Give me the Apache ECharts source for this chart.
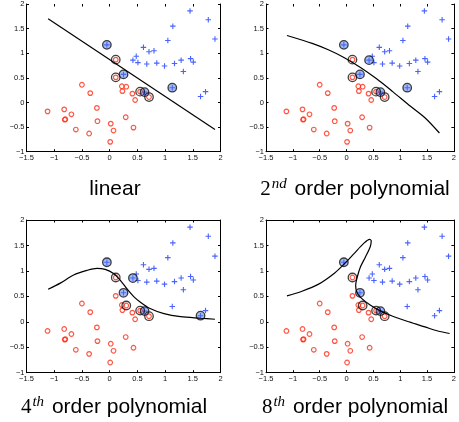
<!DOCTYPE html>
<html><head><meta charset="utf-8">
<script src="https://cdn.jsdelivr.net/npm/echarts@6/dist/echarts.min.js"></script>
<style>html,body{margin:0;padding:0;background:#fff}#c{width:459px;height:422px}</style>
</head><body><div id="c"></div>
<script>
// class 0 (red circles)
const redX = [-1.12,-0.82,-0.81,-0.80,-0.69,-0.61,-0.50,-0.35,-0.37,-0.23,-0.22,0.02,0.07,0.01,0.11,0.11,0.22,0.30,0.23,0.29,0.41,0.46,0.43,0.55,0.71];
const redY = [-0.18,-0.14,-0.35,-0.34,-0.24,-0.55,0.36,0.19,-0.63,-0.11,-0.38,-0.43,-0.57,-0.80,0.51,0.87,0.33,0.32,0.23,-0.30,0.18,0.05,-0.51,0.22,0.11];
// class 1 (blue plus)
const blueX = [-0.05,0.25,0.63,1.13,0.42,0.48,0.51,0.61,0.71,0.80,0.67,0.85,0.99,1.05,1.14,1.17,1.29,1.33,1.45,1.46,1.51,1.64,1.73,1.78,1.90];
const blueY = [1.17,0.57,0.21,0.30,0.86,0.94,0.81,1.12,1.03,1.05,0.78,0.80,0.74,1.26,1.55,0.79,0.86,0.63,1.86,0.89,0.82,0.12,0.22,1.68,1.29];
// support vectors (indices) per panel
const svRed = [[14,15,23,24],[14,15,23,24],[15,17,23,24],[15,17,23,24]];
const svBlue = [[0,1,2,3],[0,1,2,3,4],[0,1,2,4,21],[0,1,2]];
// decision boundaries
const b1X = [-1.11,1.90];
const b1Y = [1.70,-0.55];
const b2X = [-1.11,-0.64,-0.34,-0.04,0.26,0.56,0.86,1.16,1.46,1.73];
const b2Y = [1.36,1.20,1.07,0.91,0.71,0.48,0.22,-0.05,-0.31,-0.62];
const b4X = [-1.11,-0.89,-0.65,-0.41,-0.23,-0.08,0.07,0.19,0.31,0.43,0.55,0.73,0.98,1.28,1.64,1.90];
const b4Y = [0.64,0.76,0.92,1.01,1.05,1.03,0.95,0.82,0.65,0.50,0.39,0.26,0.16,0.10,0.07,0.05];
const b8X = [-1.11,-0.83,-0.52,-0.22,-0.04,0.14,0.32,0.43,0.46,0.44,0.35,0.26,0.20,0.17,0.19,0.26,0.44,0.62,0.86,1.16,1.46,1.70,1.92];
const b8Y = [0.51,0.60,0.74,0.96,1.14,1.34,1.54,1.62,1.59,1.47,1.27,1.08,0.88,0.72,0.59,0.48,0.33,0.22,0.11,0.00,-0.10,-0.18,-0.23];
const xTicks = [-1.5,-1,-0.5,0,0.5,1,1.5,2];
const yTicks = [-1,-0.5,0,0.5,1,1.5,2];
const titleSup = ['', 'nd', 'th', 'th'];
const titleNum = ['', '2', '4', '8'];
const titleRest = ['linear', ' order polynomial', ' order polynomial', ' order polynomial'];

const bx = [b1X,b2X,b4X,b8X], by = [b1Y,b2Y,b4Y,b8Y];
const pts = (xs, ys) => xs.map((x, i) => [x, ys[i]]);
const redData = pts(redX, redY), blueData = pts(blueX, blueY);

const grids = [
  {left: 26.5, top: -0.4, width: 194, height: 152.1},
  {left: 266, top: -0.4, width: 194, height: 152.1},
  {left: 26.5, top: 220, width: 194, height: 152.7},
  {left: 266, top: 220, width: 194, height: 152.7}
];
const titlePos = [
  {x: 115, y: 177}, {x: 355, y: 177}, {x: 114, y: 395}, {x: 355, y: 395}
];
const lblFmt = v => String(v).replace('-', '\u2212');
const tickStyle = {show: true, inside: true, length: 2.5, lineStyle: {color: '#000', width: 1}};
const lineStyle = {show: true, onZero: false, lineStyle: {color: '#000', width: 1}};
const lblStyle = {fontSize: 7.5, color: '#111', fontFamily: 'Liberation Sans', formatter: lblFmt, showMinLabel: true, showMaxLabel: true};

const xAxis = [], yAxis = [], series = [], title = [];
const PLUS = 'path://M-0.2,-1 L0.2,-1 L0.2,-0.2 L1,-0.2 L1,0.2 L0.2,0.2 L0.2,1 L-0.2,1 L-0.2,0.2 L-1,0.2 L-1,-0.2 L-0.2,-0.2 Z';
grids.forEach((g, k) => {
  const base = {type: 'value', gridIndex: k, min: xTicks[0], max: xTicks[xTicks.length-1], interval: 0.5, splitLine: {show: false}, axisLine: lineStyle, axisTick: tickStyle};
  xAxis.push(Object.assign({}, base, {position: 'bottom', axisLabel: Object.assign({margin: 2.5}, lblStyle)}));
  xAxis.push(Object.assign({}, base, {position: 'top', axisLabel: {show: false},
    axisLine: k < 2 ? {show: false, onZero: false} : lineStyle}));
  const ybase = {type: 'value', gridIndex: k, min: yTicks[0], max: yTicks[yTicks.length-1], interval: 0.5, splitLine: {show: false}, axisLine: lineStyle, axisTick: tickStyle};
  yAxis.push(Object.assign({}, ybase, {position: 'left', axisLabel: Object.assign({margin: 2}, lblStyle)}));
  yAxis.push(Object.assign({}, ybase, {position: 'right', axisLabel: {show: false}}));
  const xi = 2*k, yi = 2*k;
  series.push({type: 'scatter', xAxisIndex: xi, yAxisIndex: yi, data: blueData, symbol: PLUS, symbolSize: 5.5,
    itemStyle: {color: '#1a3cff'}, silent: true, z: 3});
  series.push({type: 'scatter', xAxisIndex: xi, yAxisIndex: yi, data: svBlue[k].map(i => blueData[i]), symbol: 'circle', symbolSize: 8.5,
    itemStyle: {color: 'rgba(70,110,235,0.6)', borderColor: '#111', borderWidth: 1.3}, silent: true, z: 4});
  series.push({type: 'scatter', xAxisIndex: xi, yAxisIndex: yi, data: redData, symbol: 'circle', symbolSize: 4.6,
    itemStyle: {color: 'rgba(255,255,255,0)', borderColor: '#ff2a14', borderWidth: 1.2}, silent: true, z: 3});
  series.push({type: 'scatter', xAxisIndex: xi, yAxisIndex: yi, data: svRed[k].map(i => redData[i]), symbol: 'circle', symbolSize: 8.5,
    itemStyle: {color: 'rgba(255,255,255,0)', borderColor: '#111', borderWidth: 1.3}, silent: true, z: 4});
  series.push({type: 'line', xAxisIndex: xi, yAxisIndex: yi, data: pts(bx[k], by[k]), showSymbol: false, symbol: 'none',
    smooth: k === 0 ? false : 0.3, lineStyle: {color: '#000', width: 1.2}, silent: true, z: 5});
  const txt = titleNum[k] ? `{n|${titleNum[k]}}{s|${titleSup[k]}}{t|${titleRest[k]}}` : `{t|${titleRest[k]}}`;
  title.push({text: txt, left: titlePos[k].x, top: titlePos[k].y, textAlign: 'center', padding: 0,
    textStyle: {fontWeight: 'normal', rich: {
      n: {fontFamily: 'Liberation Serif', fontWeight: 'normal', fontSize: 21, lineHeight: 24, color: '#000'},
      s: {fontFamily: 'Liberation Serif', fontWeight: 'normal', fontStyle: 'italic', fontSize: 15, lineHeight: 10, verticalAlign: 'top', color: '#000', padding: [0, 2, 0, 1]},
      t: {fontFamily: 'Liberation Sans', fontWeight: 'normal', fontSize: 21, lineHeight: 24, color: '#000'}
    }}});
});

const chart = echarts.init(document.getElementById('c'), null, {renderer: 'canvas'});
chart.setOption({animation: false, backgroundColor: '#fff', title, grid: grids, xAxis, yAxis, series});
</script></body></html>
